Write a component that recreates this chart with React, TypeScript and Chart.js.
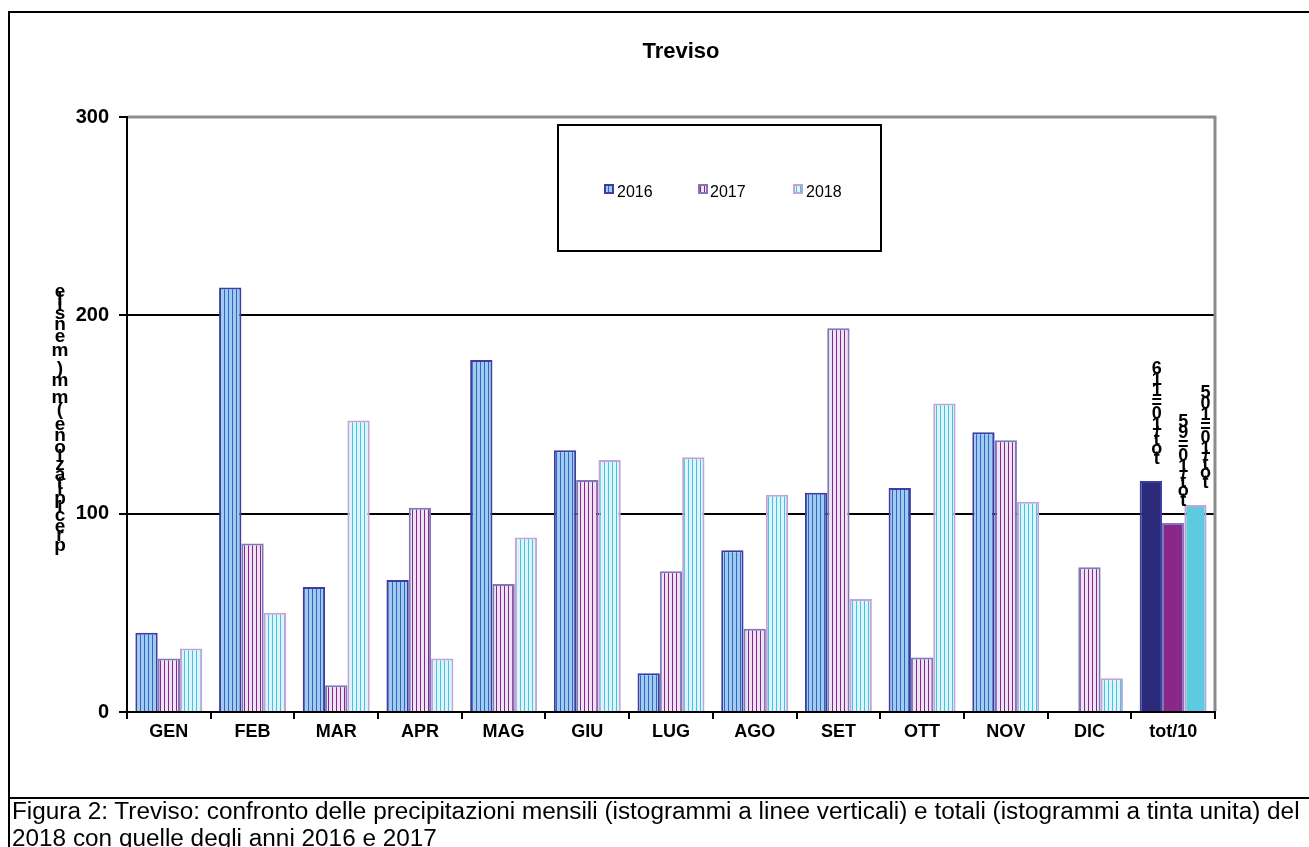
import React, { useEffect, useRef } from "react";
import { Chart, registerables } from "chart.js";

Chart.register(...registerables);

const months = ["GEN", "FEB", "MAR", "APR", "MAG", "GIU", "LUG", "AGO", "SET", "OTT", "NOV", "DIC", "tot/10"];
const values2016 = [40, 214, 63, 66.5, 177.5, 132, 19.5, 81.5, 110.5, 113, 141, 0, 116.5];
const values2017 = [27, 85, 13.5, 103, 64.5, 117, 71, 42, 193.5, 27.5, 137, 73, 95.3];
const values2018 = [32, 50, 147, 27, 88, 127, 128.5, 109.5, 57, 155.5, 106, 17, 104.4];
const seriesLabels = ["2016", "2017", "2018"];
const totLabels = ["tot/10=116", "tot/10=95", "tot/10=105"];
const yTicks = [0, 100, 200, 300];
const yTitle = "precipitazione (mm) mensile";
const chartTitle = "Treviso";
const captionLine1 =
  "Figura 2: Treviso: confronto delle precipitazioni mensili (istogrammi a linee verticali) e totali (istogrammi a tinta unita) del";
const captionLine2 = "2018 con quelle degli anni 2016 e 2017";

const FONT = '"Liberation Sans", Arial, Helvetica, sans-serif';
const W = 1309;
const H = 847;

const styles = [
  { bg: "#a2caf0", line: "#2c68c0", border: "#3c3ca2", solid: "#2b2b7a" },
  { bg: "#ece4f2", line: "#8c2490", border: "#7d78b8", solid: "#8a288a" },
  { bg: "#dcf4fa", line: "#44c2e0", border: "#c4a4d8", solid: "#5ccbe0" },
];

function makePattern(ctx: CanvasRenderingContext2D, bg: string, line: string) {
  const c = document.createElement("canvas");
  c.width = 4;
  c.height = 4;
  const g = c.getContext("2d")!;
  g.fillStyle = bg;
  g.fillRect(0, 0, 4, 4);
  g.fillStyle = line;
  g.fillRect(0, 0, 1, 4);
  return ctx.createPattern(c, "repeat")!;
}

// draws text as upright glyphs stacked vertically in reverse order (as in the reference)
function drawStacked(
  ctx: CanvasRenderingContext2D,
  text: string,
  cx: number,
  bottomBaseline: number,
  font: string,
  k: number
) {
  ctx.save();
  ctx.font = font;
  ctx.fillStyle = "#000";
  ctx.textAlign = "center";
  ctx.textBaseline = "alphabetic";
  const chars = text.split("").reverse(); // top -> bottom
  const widths = chars.map((c) => ctx.measureText(c).width);
  let y = bottomBaseline;
  for (let i = chars.length - 1; i >= 0; i--) {
    ctx.fillText(chars[i], cx, y);
    if (i > 0) y -= (k * (widths[i] + widths[i - 1])) / 2;
  }
  ctx.restore();
}

const decorPlugin = {
  id: "decor",
  beforeDraw(chart: any) {
    const ctx: CanvasRenderingContext2D = chart.ctx;
    ctx.save();
    ctx.fillStyle = "#fff";
    ctx.fillRect(0, 0, W, H);
    ctx.strokeStyle = "#000";
    ctx.lineWidth = 2;
    ctx.beginPath();
    ctx.moveTo(9, H);
    ctx.lineTo(9, 12);
    ctx.lineTo(W, 12);
    ctx.moveTo(9, 798);
    ctx.lineTo(W, 798);
    ctx.stroke();
    // title
    ctx.fillStyle = "#000";
    ctx.font = `bold 22px ${FONT}`;
    ctx.textAlign = "center";
    ctx.textBaseline = "middle";
    ctx.fillText(chartTitle, 681, 52);
    ctx.restore();
  },
  afterDatasetsDraw(chart: any) {
    const ctx: CanvasRenderingContext2D = chart.ctx;
    const a = chart.chartArea;
    ctx.save();
    // gray plot border (top & right)
    ctx.strokeStyle = "#8c8c8c";
    ctx.lineWidth = 3;
    ctx.beginPath();
    ctx.moveTo(a.left + 1, a.top);
    ctx.lineTo(a.right, a.top);
    ctx.lineTo(a.right, a.bottom - 1);
    ctx.stroke();

    // legend box
    ctx.fillStyle = "#fff";
    ctx.fillRect(558, 125, 323, 126);
    ctx.strokeStyle = "#000";
    ctx.lineWidth = 2;
    ctx.strokeRect(558, 125, 323, 126);
    const lx = [605, 699, 794];
    const tx = [617, 710, 806];
    ctx.font = `16px ${FONT}`;
    ctx.textAlign = "left";
    ctx.textBaseline = "alphabetic";
    seriesLabels.forEach((lab, i) => {
      const ds = chart.data.datasets[i];
      ctx.fillStyle = ds.backgroundColor[0];
      ctx.fillRect(lx[i], 185, 8, 8);
      ctx.strokeStyle = styles[i].border;
      ctx.lineWidth = 2;
      ctx.strokeRect(lx[i], 185, 8, 8);
      ctx.fillStyle = "#000";
      ctx.fillText(lab, tx[i], 197);
    });

    // total labels above last bars
    const last = months.length - 1;
    const offs = [6, 10, 10];
    totLabels.forEach((lab, i) => {
      const el = chart.getDatasetMeta(i).data[last];
      drawStacked(ctx, lab, el.x + offs[i], el.y - 17, `bold 18px ${FONT}`, 1.12);
    });

    // y axis title
    drawStacked(ctx, yTitle, 60, 551, `bold 19px ${FONT}`, 1.04);
    ctx.restore();
  },
};

export default function App() {
  const canvasRef = useRef<HTMLCanvasElement>(null);
  const capRef = useRef<HTMLDivElement>(null);

  useEffect(() => {
    const canvas = canvasRef.current!;
    const ctx = canvas.getContext("2d")!;
    const series = [values2016, values2017, values2018];
    const datasets = series.map((vals, i) => {
      const pat = makePattern(ctx, styles[i].bg, styles[i].line);
      return {
        label: seriesLabels[i],
        data: vals,
        backgroundColor: vals.map((_, j) => (j === months.length - 1 ? styles[i].solid : pat)),
        borderColor: styles[i].border,
        borderWidth: 2,
        borderSkipped: "start",
        categoryPercentage: 0.8,
        barPercentage: 1,
      };
    });

    const chart = new Chart(canvas, {
      type: "bar",
      data: { labels: months, datasets: datasets as any },
      options: {
        responsive: false,
        animation: false,
        devicePixelRatio: 1,
        layout: { padding: { left: 67, right: 94, top: 117, bottom: 95 } },
        plugins: {
          legend: { display: false },
          title: { display: false },
          tooltip: { enabled: false },
        },
        scales: {
          x: {
            ticks: { font: { family: FONT, size: 18, weight: "bold" }, color: "#000", padding: 2, maxRotation: 0 },
            grid: { drawOnChartArea: false, tickColor: "#000", tickLength: 7, lineWidth: 2 },
            border: { color: "#000", width: 2 },
            afterFit: (s: any) => {
              s.height = 40;
            },
          },
          y: {
            min: 0,
            max: 300,
            afterBuildTicks: (s: any) => {
              s.ticks = yTicks.map((v) => ({ value: v }));
            },
            ticks: { font: { family: FONT, size: 20, weight: "bold" }, color: "#000", padding: 10 },
            grid: {
              color: (c: any) =>
                c.tick && (c.tick.value === 100 || c.tick.value === 200) ? "#000" : "rgba(0,0,0,0)",
              lineWidth: 2,
              tickColor: "#000",
              tickLength: 8,
              tickWidth: 2,
            },
            border: { color: "#000", width: 2 },
            afterFit: (s: any) => {
              s.width = 60;
            },
          },
        },
      },
      plugins: [decorPlugin],
    });

    // fit caption width (condensed look)
    const cap = capRef.current;
    if (cap) {
      const m = document.createElement("canvas").getContext("2d")!;
      m.font = `23px ${FONT}`;
      const w = m.measureText(captionLine1).width;
      cap.style.transform = `scaleX(${1288 / w})`;
    }

    return () => chart.destroy();
  }, []);

  return (
    <div style={{ position: "absolute", left: 0, top: 0, width: W, height: H, overflow: "hidden", background: "#fff" }}>
      <canvas ref={canvasRef} width={W} height={H} style={{ position: "absolute", left: 0, top: 0, width: W, height: H }} />
      <div
        ref={capRef}
        style={{
          position: "absolute",
          left: 12,
          top: 798,
          fontFamily: FONT,
          fontSize: 23,
          lineHeight: "27px",
          color: "#000",
          whiteSpace: "pre",
          transformOrigin: "0 0",
        }}
      >
        {captionLine1 + "\n" + captionLine2}
      </div>
    </div>
  );
}
